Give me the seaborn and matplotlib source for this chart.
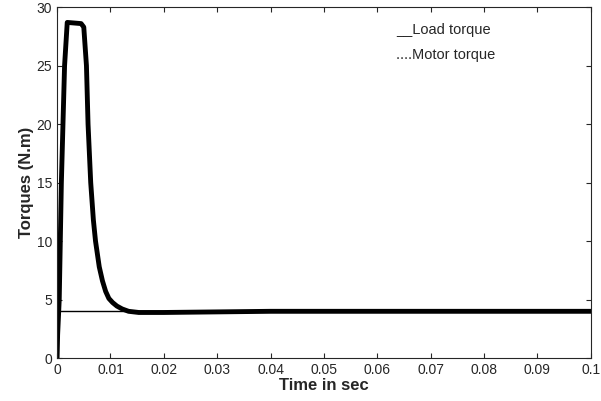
import matplotlib
matplotlib.use("Agg")
import matplotlib.pyplot as plt
import seaborn as sns

# motor torque
time_s = [0, 0.0001, 0.0004, 0.0008, 0.0014, 0.0019, 0.0045, 0.005, 0.0055, 0.0058,
          0.0063, 0.0068, 0.0072, 0.0079, 0.0085, 0.0091, 0.0097, 0.0104, 0.0112,
          0.0122, 0.0134, 0.0153, 0.02, 0.03, 0.04, 0.05, 0.06, 0.07, 0.08, 0.09, 0.1]
motor_torque = [0, 2, 5, 15, 25, 28.7, 28.6, 28.3, 25, 20,
                15, 11.8, 10, 7.8, 6.6, 5.7, 5.1, 4.75, 4.45,
                4.2, 4.0, 3.9, 3.9, 3.95, 4, 4, 4, 4, 4, 4, 4]
load_time = [0, 0.1]
load_torque = [4, 4]

sns.set_style("ticks")
plt.rcParams["font.family"] = ["Liberation Sans", "DejaVu Sans"]

fig, ax = plt.subplots(figsize=(6.01, 4.01), dpi=100)
fig.subplots_adjust(left=0.095, right=0.983, top=0.982, bottom=0.107)

sns.lineplot(x=load_time, y=load_torque, color="black", linewidth=1, ax=ax)
sns.lineplot(x=time_s, y=motor_torque, color="black", linewidth=3.5, ax=ax)

ax.set_xlim(0, 0.1)
ax.set_ylim(0, 30)
ax.set_xticks([i / 100 for i in range(11)])
ax.set_xticklabels(["0"] + [f"{i/100:g}" for i in range(1, 11)])
ax.set_yticks(range(0, 31, 5))
ax.tick_params(direction="in", labelsize=10, top=True, right=True)
ax.set_xlabel("Time in sec", fontsize=12, fontweight="bold", labelpad=1)
ax.set_ylabel("Torques (N.m)", fontsize=12, fontweight="bold", labelpad=2)

ax.text(0.635, 0.955, "__Load torque", transform=ax.transAxes, fontsize=10.5, va="top")
ax.text(0.635, 0.885, "....Motor torque", transform=ax.transAxes, fontsize=10.5, va="top")

fig.savefig("out.png", dpi=100)
